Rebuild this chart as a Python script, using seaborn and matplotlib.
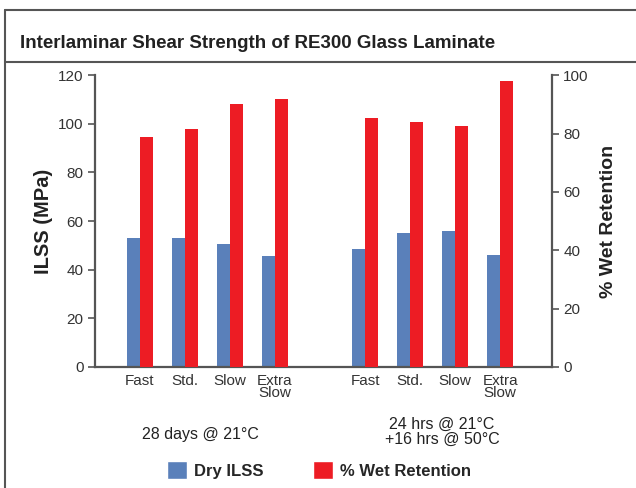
import pandas as pd
import matplotlib.pyplot as plt
import seaborn as sns
from matplotlib.lines import Line2D
from matplotlib.patches import Patch

# values
slot_ids = ["f1", "s1", "sl1", "x1", "gap", "f2", "s2", "sl2", "x2"]
bar_slots = ["f1", "s1", "sl1", "x1", "f2", "s2", "sl2", "x2"]
tick_labels = ["Fast", "Std.", "Slow", "Extra\nSlow", "", "Fast", "Std.", "Slow", "Extra\nSlow"]
dry_ilss = [53.1, 53.0, 50.6, 45.7, 48.6, 55.1, 56.0, 46.1]
wet_retention = [78.8, 81.5, 90.1, 91.8, 85.3, 83.9, 82.5, 97.9]
group_labels = ["28 days @ 21°C", "24 hrs @ 21°C\n+16 hrs @ 50°C"]
series = ["Dry ILSS", "% Wet Retention"]

BLUE = "#5a80ba"
RED = "#ed1c24"
GREY = "#555555"
TXT = "#333333"


def make_chart():
    sns.set_theme(style="white")
    plt.rcParams["font.family"] = ["Liberation Sans", "DejaVu Sans"]

    dry = pd.DataFrame({"slot": bar_slots, "value": dry_ilss, "series": series[0]})
    wet = pd.DataFrame({"slot": bar_slots, "value": wet_retention, "series": series[1]})
    pal = {series[0]: BLUE, series[1]: RED}

    fig = plt.figure(figsize=(6.36, 4.88), dpi=100)
    ax = fig.add_axes([0.149, 0.248, 0.719, 0.598])
    ax2 = ax.twinx()

    # blue bars on the left scale, red on the right, dodged as one hue pair
    sns.barplot(data=dry, x="slot", y="value", hue="series", order=slot_ids,
                hue_order=series, palette=pal, width=0.58, dodge=True, saturation=1,
                linewidth=0, legend=False, ax=ax)
    sns.barplot(data=wet, x="slot", y="value", hue="series", order=slot_ids,
                hue_order=series, palette=pal, width=0.58, dodge=True, saturation=1,
                linewidth=0, legend=False, ax=ax2)

    ax.set_xlim(-1.0, 9.15)
    ax.set_ylim(0, 120)
    ax2.set_ylim(0, 100)
    ax.set_yticks(range(0, 121, 20))
    ax2.set_yticks(range(0, 101, 20))

    ax.set_xticks(range(len(slot_ids)))
    ax.set_xticklabels(tick_labels, fontsize=11, color=TXT, linespacing=0.85)
    ax.set_xticks([0.51, 1.64, 2.67, 3.67, 4.4, 5.4, 6.42, 7.42, 8.44], minor=True)
    ax.tick_params(axis="x", which="major", length=0, pad=5)
    ax.tick_params(axis="x", which="minor", length=5, width=1.2, color=GREY, direction="out")
    ax.tick_params(axis="y", length=5, width=1.2, color=GREY, direction="out",
                   labelsize=11, labelcolor=TXT, pad=3, left=True)
    ax2.tick_params(axis="y", length=5, width=1.2, color=GREY, direction="out",
                    labelsize=11, labelcolor=TXT, pad=3, right=True)

    for a in (ax, ax2):
        a.set_xlabel("")
        a.set_ylabel("")
        for s in a.spines.values():
            s.set_visible(False)
    ax.spines["left"].set_visible(True)
    ax.spines["bottom"].set_visible(True)
    ax2.spines["right"].set_visible(True)
    for s in (ax.spines["left"], ax.spines["bottom"], ax2.spines["right"]):
        s.set_color(GREY)
        s.set_linewidth(1.6)

    ax.set_ylabel("ILSS (MPa)", fontsize=14.5, fontweight="bold", color="#222222", labelpad=4)
    ax2.set_ylabel("% Wet Retention", fontsize=14, fontweight="bold", color="#222222",
                   labelpad=8)

    # group captions under the category labels
    fig.text(200 / 636, 1 - 435 / 488, group_labels[0], ha="center", va="center",
             fontsize=11.5, color="#222222")
    fig.text(442 / 636, 1 - 432 / 488, group_labels[1], ha="center", va="center",
             fontsize=11.5, color="#222222", linespacing=1.0)

    # title band and frame
    fig.text(20 / 636, 1 - 44 / 488, "Interlaminar Shear Strength of RE300 Glass Laminate",
             ha="left", va="center", fontsize=13.5, fontweight="bold", color="#222222")
    fig.add_artist(Line2D([5 / 636, 1], [1 - 10 / 488] * 2, color=GREY, lw=1.5,
                          transform=fig.transFigure))
    fig.add_artist(Line2D([5 / 636, 1], [1 - 62 / 488] * 2, color=GREY, lw=1.5,
                          transform=fig.transFigure))
    fig.add_artist(Line2D([5 / 636] * 2, [0, 1 - 10 / 488], color=GREY, lw=1.5,
                          transform=fig.transFigure))

    handles = [Patch(facecolor=BLUE), Patch(facecolor=RED)]
    fig.legend(handles, series, loc="center", bbox_to_anchor=(319 / 636, 1 - 470 / 488),
               ncol=2, frameon=False, handlelength=1.2, handleheight=1.2,
               handletextpad=0.4, columnspacing=3.0,
               prop={"weight": "bold", "size": 12})

    fig.savefig("out.png", dpi=100)


if __name__ == "__main__":
    make_chart()
